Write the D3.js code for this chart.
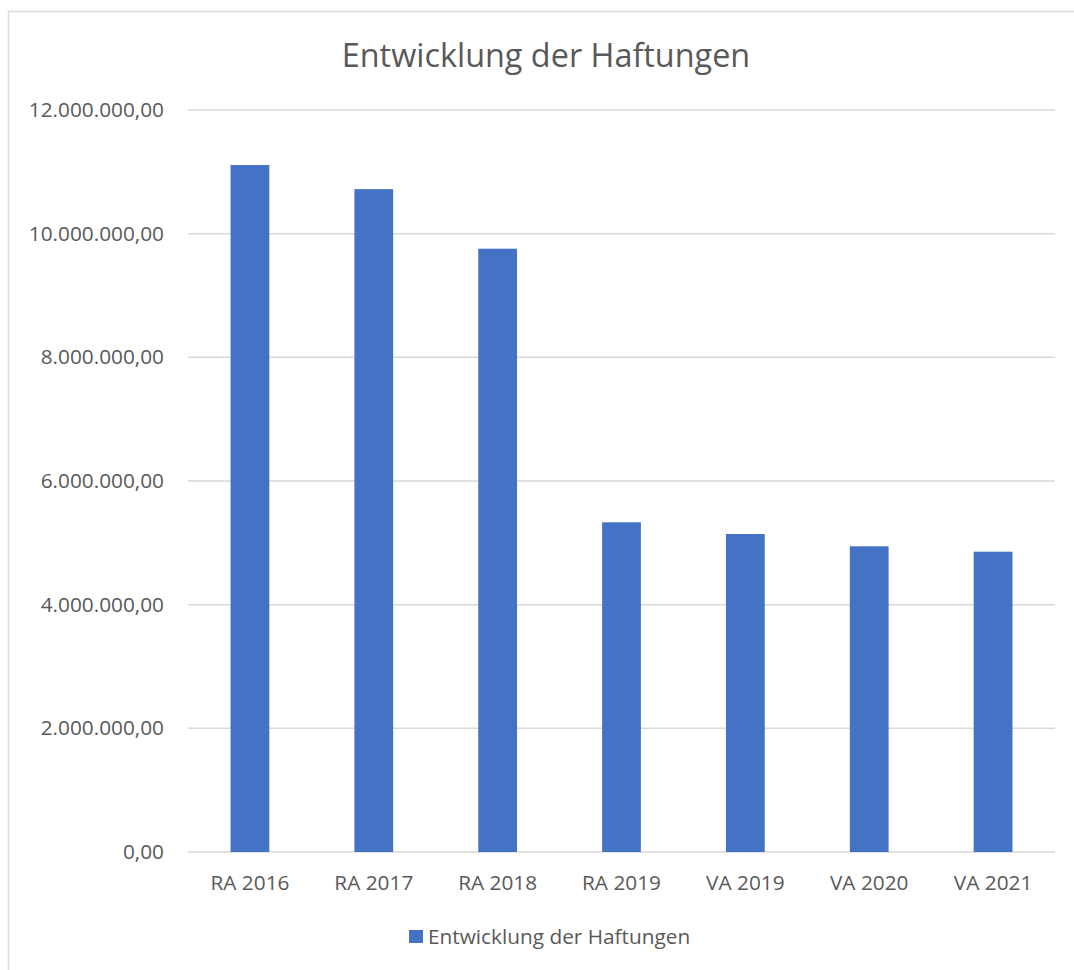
<!DOCTYPE html>
<html>
<head>
<meta charset="utf-8">
<script src="https://cdn.jsdelivr.net/npm/d3@7"></script>
<style>
  body { margin: 0; background: #fff; }
  svg { display: block; font-family: "Open Sans", sans-serif; }
</style>
</head>
<body>
<svg></svg>
<script>
var width = 1074;
var height = 970;

// data
var categories = ["RA 2016", "RA 2017", "RA 2018", "RA 2019", "VA 2019", "VA 2020", "VA 2021"];
var values = [11110000, 10720000, 9757000, 5332000, 5143000, 4944000, 4857000];
var yTicks = [0, 2000000, 4000000, 6000000, 8000000, 10000000, 12000000];
var seriesName = "Entwicklung der Haftungen";
var title = "Entwicklung der Haftungen";

var plot = { left: 188, right: 1055, top: 110, bottom: 852 };
var textColor = "#595959";
var gridColor = "#d9d9d9";
var barColor = "#4472c4";
var labelSize = "20.8px";

var svg = d3.select("svg")
            .attr("width", width)
            .attr("height", height);

// chart frame (cropped at right and bottom)
svg.append("rect")
   .attr("x", 8.5)
   .attr("y", 11.5)
   .attr("width", width + 20)
   .attr("height", height + 20)
   .attr("fill", "none")
   .attr("stroke", gridColor)
   .attr("stroke-width", 1.5);

var xScale = d3.scaleBand()
               .domain(categories)
               .range([plot.left, plot.right])
               .paddingInner(0.687)
               .paddingOuter(0.3435);

var yScale = d3.scaleLinear()
               .domain([0, 12000000])
               .range([plot.bottom, plot.top]);

var fmt = v => d3.format(",.2f")(v).replace(/,/g, "#").replace(".", ",").replace(/#/g, ".");

// grid lines
svg.append("g")
   .selectAll("line")
   .data(yTicks)
   .enter()
   .append("line")
     .attr("x1", plot.left)
     .attr("x2", plot.right)
     .attr("y1", d => yScale(d))
     .attr("y2", d => yScale(d))
     .attr("stroke", gridColor)
     .attr("stroke-width", 1.5);

// y axis labels
var yAxis = d3.axisLeft(yScale)
              .tickValues(yTicks)
              .tickFormat(fmt)
              .tickSize(0)
              .tickPadding(24);

svg.append("g")
   .attr("transform", "translate(" + plot.left + ",0)")
   .call(yAxis)
   .call(g => g.select(".domain").remove())
   .selectAll("text")
     .attr("fill", textColor)
     .attr("font-size", labelSize)
     .attr("font-family", "Open Sans, sans-serif");

// bars
svg.append("g")
   .selectAll("rect")
   .data(values)
   .enter()
   .append("rect")
     .attr("x", (d, i) => xScale(categories[i]))
     .attr("y", d => yScale(d))
     .attr("width", xScale.bandwidth())
     .attr("height", d => plot.bottom - yScale(d))
     .attr("fill", barColor);

// x axis labels
var xAxis = d3.axisBottom(xScale)
              .tickSize(0)
              .tickPadding(23);

svg.append("g")
   .attr("transform", "translate(0," + plot.bottom + ")")
   .call(xAxis)
   .call(g => g.select(".domain").remove())
   .selectAll("text")
     .attr("fill", textColor)
     .attr("font-size", labelSize)
     .attr("font-family", "Open Sans, sans-serif");

// title
svg.append("text")
   .attr("x", 546)
   .attr("y", 67)
   .attr("text-anchor", "middle")
   .attr("fill", textColor)
   .attr("font-size", "32.4px")
   .text(title);

// legend
var legend = svg.append("g")
                .attr("transform", "translate(409,930)");

legend.append("rect")
      .attr("width", 14)
      .attr("height", 13)
      .attr("fill", barColor);

legend.append("text")
      .attr("x", 19)
      .attr("y", 14)
      .attr("fill", textColor)
      .attr("font-size", labelSize)
      .text(seriesName);
</script>
</body>
</html>
